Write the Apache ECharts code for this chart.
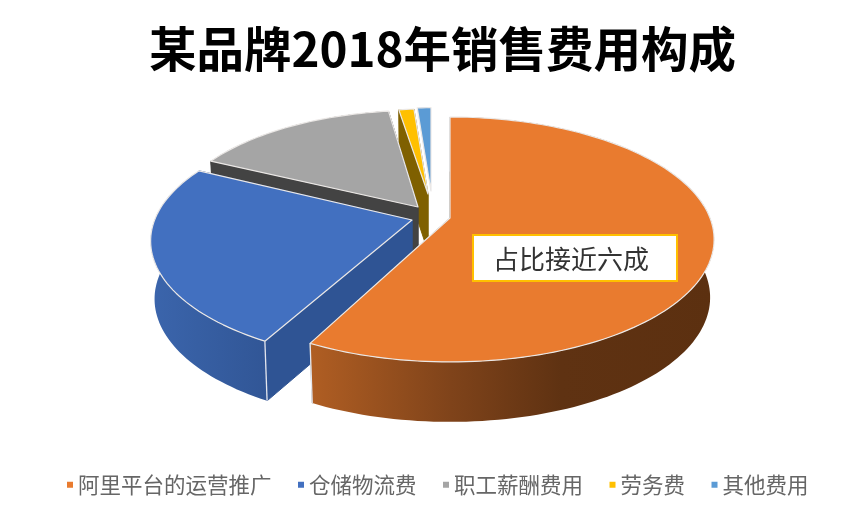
<!DOCTYPE html>
<html>
<head>
<meta charset="utf-8">
<style>html,body{margin:0;padding:0;background:#fff}#c{width:865px;height:516px}</style>
<script src="https://cdn.jsdelivr.net/npm/echarts@6/dist/echarts.min.js"></script>
</head>
<body>
<div id="c"></div>
<script>
var chartTitle = '某品牌2018年销售费用构成';
var categories = ['阿里平台的运营推广', '仓储物流费', '职工薪酬费用', '劳务费', '其他费用'];
var values = [57.5, 24.4, 15.6, 1.3, 1.2];
var note = '占比接近六成';

var topColors = ['#E97B2F', '#4270C0', '#A5A5A5', '#FFC000', '#5B9BD5'];
var faceColors = ['#8f8a80', '#2F5494', '#434343', '#7F6000', '#ffffff'];
var wallStops = [
  [[0, '#B05E23'], [0.35, '#7F431A'], [0.62, '#5F3212'], [1, '#5C3010']],
  [[0, '#3B65AC'], [1, '#315696']],
  [[0, '#434343'], [1, '#434343']],
  [[0, '#7F6000'], [1, '#7F6000']],
  [[0, '#5B9BD5'], [1, '#5B9BD5']]
];
var apexX = [450, 412, 418, 428, 431];
var apexY = [218, 220, 207, 194, 191];
var radii = [1, 0.99, 0.95, 0.82, 0.80];
var spinDeg = [0, 2, 1, 0, 0];
var layers = [5, 4, 3, 2, 1];
var wallEdges = [true, true, false, false, false];

var persp = 0.1753, scaleX = 260, scaleY = 118.7, shrink = 0.985, depth = 57.5, depthPersp = 0.08;
var total = values.reduce(function (a, b) { return a + b; }, 0);

function topPoint(i, deg) {
  var t = deg * Math.PI / 180, r = radii[i];
  var X = r * Math.sin(t), Y = r * Math.cos(t), d = 1 + persp * Y;
  return [apexX[i] + scaleX * X / d, apexY[i] - scaleY * Y / d, Y];
}
function lower(i, p) {
  return [apexX[i] + (p[0] - apexX[i]) * shrink,
          apexY[i] + (p[1] - apexY[i]) * shrink + depth * (1 - depthPersp * p[2])];
}

function makeRender(i) {
  return function (params, api) {
    var before = 0;
    for (var k = 0; k < i; k++) before += values[k];
    var a0 = before / total * 360 + spinDeg[i];
    var a1 = a0 + api.value(0) / total * 360;
    var rim = [], n = Math.max(2, Math.ceil((a1 - a0) / 1.5));
    for (var s = 0; s <= n; s++) rim.push(topPoint(i, a0 + (a1 - a0) * s / n));
    var apex = [apexX[i], apexY[i], 0];
    var lowRim = rim.map(function (p) { return lower(i, p); });
    var flat = rim.map(function (p) { return [p[0], p[1]]; });
    var wall = flat.concat(lowRim.slice().reverse());
    var apexLow = lower(i, apex);
    function face(p, q, color) {
      return { type: 'polygon', silent: true,
        shape: { points: [[apex[0], apex[1]], [p[0], p[1]], q, apexLow] },
        style: { fill: color, stroke: color, lineWidth: 1 } };
    }
    var first = rim[0], last = rim[rim.length - 1];
    var edge = function (p, q) {
      return { type: 'line', silent: true, invisible: !wallEdges[i],
        shape: { x1: p[0], y1: p[1], x2: q[0], y2: q[1] },
        style: { stroke: '#E4E6EE', lineWidth: 1.3 } };
    };
    return { type: 'group', children: [
      face(last, lowRim[lowRim.length - 1], faceColors[i]),
      { type: 'polygon', silent: true, shape: { points: wall },
        style: { fill: { type: 'linear', x: 0, y: 0, x2: 1, y2: 0,
          colorStops: wallStops[i].map(function (c) { return { offset: c[0], color: c[1] }; }) } } },
      face(first, lowRim[0], faceColors[i]),
      edge(first, lowRim[0]),
      edge(last, lowRim[lowRim.length - 1]),
      { type: 'polygon', silent: true,
        shape: { points: [[apex[0], apex[1]]].concat(flat) },
        style: { fill: topColors[i], stroke: '#EBE8E6', lineWidth: 1.2, lineJoin: 'round' } }
    ] };
  };
}

var chart = echarts.init(document.getElementById('c'), null, { renderer: 'canvas' });
chart.setOption({
  animation: false,
  backgroundColor: '#ffffff',
  title: { text: chartTitle, left: 437.5, textAlign: 'center', top: 20,
    textStyle: { fontFamily: 'Noto Sans CJK SC', fontSize: 47.5, fontWeight: 'bold', color: '#000000' } },
  legend: { left: 62, top: 469, icon: 'rect', itemWidth: 6, itemHeight: 6, itemGap: 26.5,
    data: categories,
    textStyle: { fontFamily: 'Noto Sans CJK SC', fontSize: 21.5, color: '#666666' } },
  series: categories.map(function (name, i) {
    return { type: 'custom', name: name, coordinateSystem: 'none', z: layers[i],
      itemStyle: { color: topColors[i] }, silent: true,
      renderItem: makeRender(i), data: [[values[i]]] };
  }),
  graphic: [
    { type: 'rect', z: 100, silent: true, shape: { x: 473, y: 235, width: 204, height: 46 },
      style: { fill: '#ffffff', stroke: '#FFC000', lineWidth: 2 } },
    { type: 'text', z: 101, silent: true, x: 571, y: 259,
      style: { text: note, fontFamily: 'Noto Sans CJK SC', fontSize: 26, fill: '#333333',
        textAlign: 'center', textVerticalAlign: 'middle' } }
  ]
});
</script>
</body>
</html>
